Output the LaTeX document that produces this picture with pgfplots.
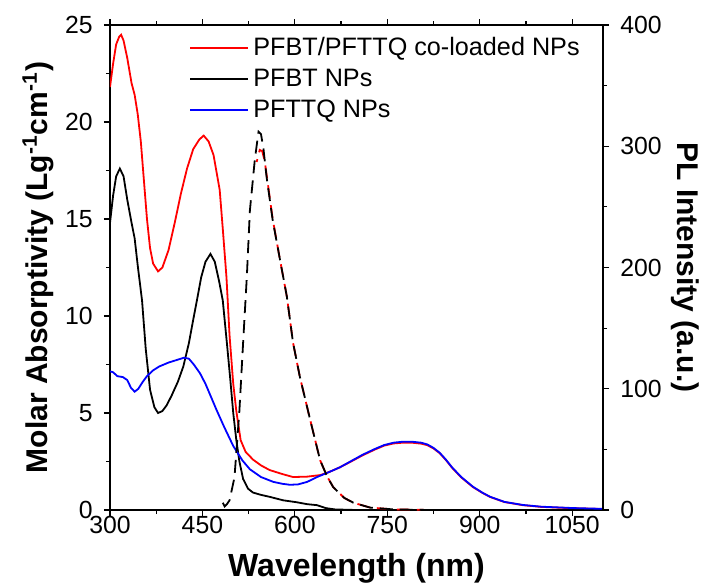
\documentclass[border=0pt]{standalone}
\usepackage{fontspec}
\setmainfont{Liberation Sans}
\usepackage{pgfplots}
\pgfplotsset{compat=1.18}

\pgfplotsset{
  common/.style={
    width=246.5pt, height=242.5pt, scale only axis,
    xmin=300, xmax=1100,
    tick align=outside,
    major tick length=3pt, minor tick length=2pt,
    every tick/.style={black, line width=0.6pt},
    axis line style={line width=0.7pt},
    tick label style={font=\fontsize{12.4}{14}\selectfont},
    yticklabel style={inner xsep=5.5pt},
    xticklabel style={inner ysep=0pt},
    /pgf/number format/assume math mode=true,
  },
}

\begin{document}
\begin{tikzpicture}
\useasboundingbox (-55pt,-37.5pt) rectangle (297.5pt,255pt);
\begin{axis}[
  common,
  ymin=0, ymax=25,
  ytick={0,5,...,25}, minor y tick num=1,
  xtick={300,450,...,1050}, minor x tick num=1,
  xtick pos=both, ytick pos=left,
  xticklabel pos=bottom,
  /pgf/number format/1000 sep={},
  xlabel={Wavelength (nm)},
  ylabel={Molar Absorptivity (Lg\textsuperscript{-1}cm\textsuperscript{-1})},
  xlabel style={at={(axis description cs:0.5,-0.1196)}, anchor=center,
    font=\fontsize{16}{18}\selectfont\bfseries},
  ylabel style={at={(axis description cs:-0.146,0.5)}, anchor=center, rotate=0,
    font=\fontsize{15}{17}\selectfont\bfseries},
  legend style={at={(0.148,0.992)}, anchor=north west, draw=none, fill=none,
    font=\fontsize{12.6}{14}\selectfont, row sep=1.3pt},
  legend cell align=left,
  legend image code/.code={\draw[#1, line width=1pt] (0pt,0pt) -- (29pt,0pt);},
]
\addplot[red, line width=0.9pt] coordinates {
(300,21.8) (305,23.0) (310,24.0) (315,24.4) (318,24.5) (322,24.2) (328,23.3)
(335,22.0) (340,21.4) (345,20.4) (350,19.0) (355,17.0) (360,15.0) (365,13.5)
(370,12.7) (378,12.3) (385,12.5) (395,13.4) (405,14.8) (415,16.3) (425,17.6)
(435,18.6) (445,19.1) (452,19.3) (460,19.0) (468,18.3) (473,17.4) (478,16.5)
(483,14.5) (489,12.0) (494,9.0) (500,6.5) (505,5.1) (512,3.6) (520,3.0)
(532,2.6) (545,2.3) (559,2.06) (580,1.85) (597,1.7) (620,1.72) (641,1.8)
(655,1.95) (673,2.2) (690,2.48) (710,2.82) (730,3.12) (745,3.32) (760,3.43)
(775,3.47) (790,3.47) (805,3.42) (815,3.34) (825,3.17) (835,2.93) (845,2.58)
(855,2.18) (870,1.68) (889,1.18) (905,0.87) (917,0.67) (940,0.41) (970,0.25)
(1000,0.16) (1052,0.09) (1100,0.05)
};
\addlegendentry{PFBT/PFTTQ co-loaded NPs}
\addplot[black, line width=0.9pt] coordinates {
(300,14.8) (305,16.2) (310,17.2) (316,17.6) (322,17.2) (328,16.0) (335,14.8)
(340,14.0) (345,12.6) (352,10.8) (358,8.3) (365,6.2) (372,5.3) (378,5.0)
(385,5.1) (392,5.4) (400,5.9) (410,6.6) (419,7.4) (428,8.6) (435,9.8)
(441,10.8) (448,12.0) (455,12.8) (463,13.2) (470,12.8) (477,11.8) (483,10.8)
(490,8.5) (495,6.8) (500,5.0) (505,3.6) (510,2.5) (516,1.6) (524,1.1)
(532,0.9) (545,0.78) (559,0.68) (581,0.5) (603,0.4) (620,0.3) (636,0.25)
(650,0.1) (665,0.03) (700,0.0) (1100,0.0)
};
\addlegendentry{PFBT NPs}
\addplot[blue, line width=0.9pt] coordinates {
(300,7.15) (305,7.1) (312,6.9) (321,6.85) (328,6.7) (334,6.3) (340,6.1)
(346,6.25) (353,6.6) (360,6.9) (370,7.2) (380,7.4) (395,7.6) (410,7.75)
(420,7.85) (428,7.8) (436,7.5) (446,7.05) (455,6.5) (465,5.75) (473,5.15)
(485,4.3) (500,3.3) (515,2.55) (527,2.1) (545,1.7) (565,1.45) (580,1.35)
(592,1.3) (605,1.32) (620,1.45) (636,1.7) (655,1.95) (673,2.2) (690,2.5)
(710,2.85) (730,3.15) (745,3.35) (760,3.47) (775,3.52) (790,3.52) (805,3.47)
(815,3.38) (825,3.2) (835,2.95) (845,2.6) (855,2.2) (870,1.7) (889,1.2)
(905,0.88) (917,0.68) (940,0.42) (970,0.26) (1000,0.17) (1052,0.1) (1100,0.06)
};
\addlegendentry{PFTTQ NPs}
\end{axis}

\begin{axis}[
  common,
  ymin=0, ymax=400,
  ytick={0,100,...,400}, minor y tick num=1,
  axis y line*=right, axis x line=none,
  ylabel={PL Intensity (a.u.)},
  ylabel style={at={(axis description cs:1.166,0.5)}, anchor=center, rotate=180,
    font=\fontsize{15}{17}\selectfont\bfseries},
]
\addplot[red, line width=0.9pt, dash pattern=on 6.5pt off 3.5pt, dash phase=5pt] coordinates {
(538,287) (543,297) (547,296) (551,288) (554,277) (564,240) (576,206)
(587,176) (597,138) (608,110) (625,74) (641,41) (652,28) (662,19) (680,10)
(695,6) (722,2) (760,0.5) (820,0)
};
\addplot[black, line width=0.9pt, dash pattern=on 6.5pt off 3.5pt] coordinates {
(483,6) (486,3) (490,5) (494,8) (502,27) (510,82) (516,138) (522,192)
(527,247) (535,289) (541,312) (545,310) (549,298) (554,275) (564,239)
(576,206) (587,176) (597,138) (608,110) (625,74) (641,41) (652,28)
(662,19) (680,10) (695,6) (722,2) (760,0.5) (820,0)
};
\end{axis}
\end{tikzpicture}
\end{document}
